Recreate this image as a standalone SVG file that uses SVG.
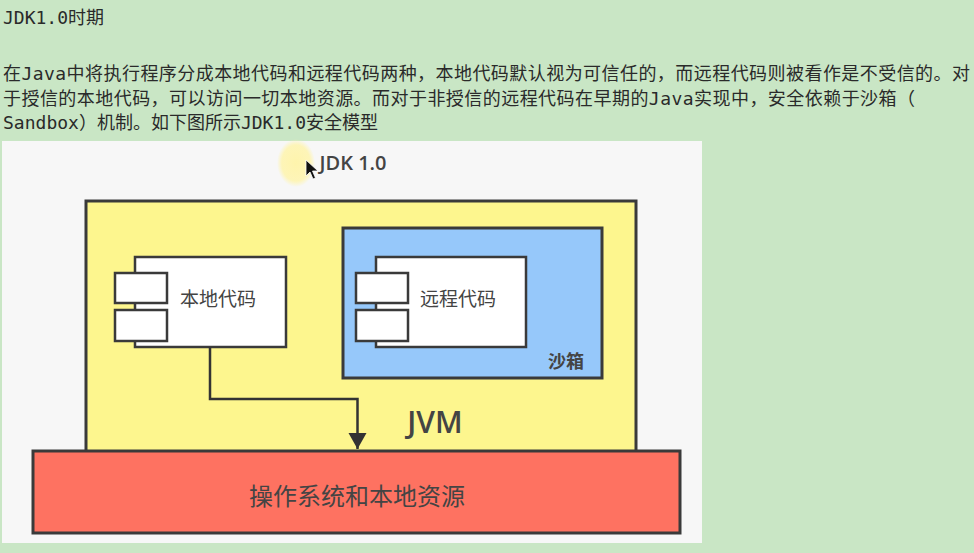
<svg xmlns="http://www.w3.org/2000/svg" width="974" height="553" viewBox="0 0 974 553">
<defs>
<style>
.para{font-family:"DejaVu Sans Mono","Noto Sans CJK SC",monospace;font-size:18px;fill:#2a2a2a}
.box{stroke:#3a3a3a;stroke-width:3}
.comp{fill:#ffffff;stroke:#3a3a3a;stroke-width:2.5}
.lbl{font-family:"Open Sans","Noto Sans CJK SC",sans-serif;fill:#444}
.conn{fill:none;stroke:#333;stroke-width:2.5}
</style>
<marker id="ah" viewBox="0 0 16 24" refX="16" refY="12" markerWidth="16" markerHeight="24" markerUnits="userSpaceOnUse" orient="auto">
<path d="M0,3 L16,12 L0,21 Z" fill="#333"/>
</marker>
<radialGradient id="glow">
<stop offset="0" stop-color="#fff4a8" stop-opacity="0.95"/>
<stop offset="0.75" stop-color="#fff4a8" stop-opacity="0.8"/>
<stop offset="1" stop-color="#fff4a8" stop-opacity="0"/>
</radialGradient>
</defs>
<rect x="0" y="0" width="974" height="553" fill="#c9e6c5"/>
<g id="text">
<text class="para" x="3" y="24">JDK1.0时期</text>
<text class="para" x="3" y="80" textLength="967" lengthAdjust="spacing">在Java中将执行程序分成本地代码和远程代码两种，本地代码默认视为可信任的，而远程代码则被看作是不受信的。对</text>
<text class="para" x="3" y="104.5" textLength="912" lengthAdjust="spacing">于授信的本地代码，可以访问一切本地资源。而对于非授信的远程代码在早期的Java实现中，安全依赖于沙箱（</text>
<text class="para" x="3" y="129" textLength="375" lengthAdjust="spacing">Sandbox）机制。如下图所示JDK1.0安全模型</text>
</g>
<rect id="panel" x="2" y="141" width="700" height="402" fill="#f7f7f7"/>
<ellipse cx="296" cy="163" rx="19" ry="24" fill="url(#glow)"/>
<text class="lbl" x="353" y="170" font-size="20" font-weight="600" text-anchor="middle">JDK 1.0</text>
<g id="jvm">
<rect class="box" x="86" y="201" width="550" height="252" fill="#fdf68e"/>
<text class="lbl" x="435" y="433" font-size="30" font-weight="600" text-anchor="middle" fill="#333">JVM</text>
</g>
<g id="sandbox">
<rect class="box" x="343" y="228" width="259" height="150" fill="#96c8fa"/>
<text class="lbl" x="566" y="368" font-size="18" font-weight="bold" text-anchor="middle">沙箱</text>
</g>
<g id="local">
<rect class="comp" x="135" y="257" width="151" height="90"/>
<rect class="comp" x="115" y="273" width="52" height="30"/>
<rect class="comp" x="115" y="310" width="52" height="31"/>
<text class="lbl" x="180" y="306" font-size="19">本地代码</text>
</g>
<g id="remote">
<rect class="comp" x="376" y="257" width="150" height="90"/>
<rect class="comp" x="356" y="273" width="52" height="30"/>
<rect class="comp" x="356" y="310" width="52" height="31"/>
<text class="lbl" x="420" y="306" font-size="19">远程代码</text>
</g>
<g id="os">
<rect class="box" x="33" y="451" width="647" height="82" fill="#fe7261"/>
<text class="lbl" x="357" y="505" font-size="24" text-anchor="middle" fill="#3a3a3a">操作系统和本地资源</text>
</g>
<g id="connectors">
<path class="conn" d="M210,347 V399 H357.5 V449" marker-end="url(#ah)"/>
</g>
<path d="M306,160 L306,176 L310,172 L313,179 L315.5,178 L312.5,171 L318,171 Z" fill="#111" stroke="#fff" stroke-width="0.8"/>
</svg>
